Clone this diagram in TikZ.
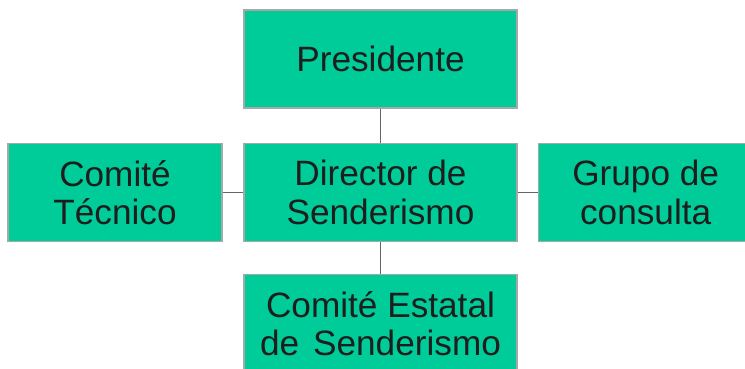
\documentclass[tikz,border=0pt]{standalone}
\usepackage{fontspec}
\setmainfont{Liberation Sans}
\definecolor{boxfill}{RGB}{0,204,153}
\definecolor{boxline}{RGB}{168,168,168}
\definecolor{linkline}{RGB}{100,100,100}
\definecolor{txt}{RGB}{30,30,30}
\begin{document}
\begin{tikzpicture}[x=1pt,y=-1pt,
  orgbox/.style={draw=boxline,line width=1.3pt,fill=boxfill,rectangle,inner sep=0pt,
    minimum height=98pt,align=center,text=txt,font=\fontsize{35.2}{38.5}\selectfont},
  link/.style={draw=linkline,line width=1.4pt}]
\useasboundingbox (0,0) rectangle (745,368);
\node[orgbox,minimum width=273pt] (pres) at (380.5,59) {Presidente};
\node[orgbox,minimum width=273pt] (dir) at (380.5,192.5) {Director de\\Senderismo};
\node[orgbox,minimum width=214pt] (tec) at (115,192.5) {Comité\\Técnico};
\node[orgbox,minimum width=214pt,anchor=west] (grp) at (538,192.5) {Grupo de\\consulta};
\node[orgbox,minimum width=273pt,anchor=north] (est) at (380.5,274) {Comité Estatal\\de\hspace{0.12em} Senderismo};
\draw[link] (pres.south) -- (dir.north);
\draw[link] (tec.east) -- (dir.west);
\draw[link] (dir.east) -- (grp.west);
\draw[link] (dir.south) -- (est.north);
\end{tikzpicture}
\end{document}
